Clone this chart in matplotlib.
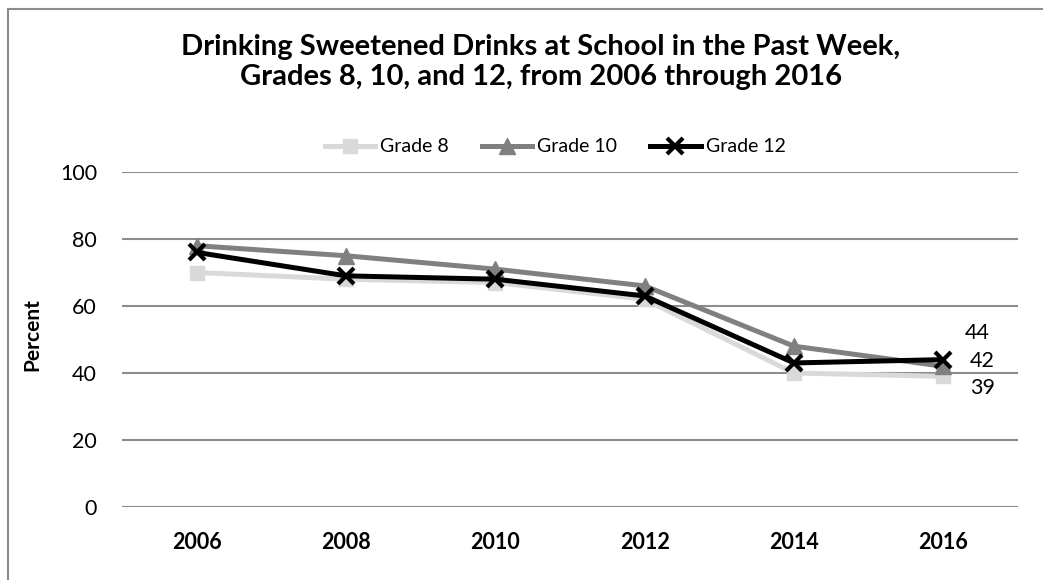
import numpy as np
import matplotlib
matplotlib.use('Agg')
import matplotlib.pyplot as plt
from matplotlib.patches import Rectangle

plt.rcParams['font.family'] = ['Lato', 'DejaVu Sans']

years = ['2006', '2008', '2010', '2012', '2014', '2016']
grade8 = [70, 68, 67, 62, 40, 39]
grade10 = [78, 75, 71, 66, 48, 42]
grade12 = [76, 69, 68, 63, 43, 44]

fig = plt.figure(figsize=(10.43, 5.8), dpi=100)
ax = fig.add_axes([122/1043, 1-507/580, 896/1043, 335/580])

x = np.arange(len(years))
ax.plot(x, grade8, color='#d9d9d9', lw=3.6, marker='s', ms=10, label='Grade 8')
ax.plot(x, grade10, color='#808080', lw=3.6, marker='^', ms=11, label='Grade 10')
ax.plot(x, grade12, color='black', lw=3.6, marker='x', ms=11, mew=3, label='Grade 12')

# end labels for 2016
ax.annotate(str(grade12[-1]), (x[-1], grade12[-1]), xytext=(34, 27),
            textcoords='offset pixels', ha='center', va='center', fontsize=15.5)
ax.annotate(str(grade10[-1]), (x[-1], grade10[-1]), xytext=(39, 5),
            textcoords='offset pixels', ha='center', va='center', fontsize=15.5)
ax.annotate(str(grade8[-1]), (x[-1], grade8[-1]), xytext=(39, -12),
            textcoords='offset pixels', ha='center', va='center', fontsize=15.5)

ax.set_xlim(-0.5, 5.5)
ax.set_ylim(0, 100)
ax.set_yticks(range(0, 101, 20))
ax.set_xticks(x)
ax.set_xticklabels(years, fontweight='bold')
ax.tick_params(axis='both', length=0, labelsize=15.5)
ax.tick_params(axis='y', pad=18)
ax.tick_params(axis='x', pad=18)
ax.grid(axis='y', color='#8c8c8c', lw=1.5)
ax.set_axisbelow(True)
for s in ['left', 'right', 'top', 'bottom']:
    ax.spines[s].set_visible(False)

fig.text(32/1043, 1-335/580, 'Percent', rotation=90, ha='center', va='center',
         fontsize=15, fontweight='bold')
fig.text(541/1043, 1-62/580,
         'Drinking Sweetened Drinks at School in the Past Week,\nGrades 8, 10, and 12, from 2006 through 2016',
         ha='center', va='center', fontsize=21, fontweight='bold', linespacing=1.2)

fig.legend(loc='center', bbox_to_anchor=(555/1043, 1-147/580), ncol=3, frameon=False,
           fontsize=14, handlelength=2.6, handletextpad=0.25, columnspacing=1.7)

fig.patches.append(Rectangle((8/1043, -0.5), 2, 0.5 + 1 - 9/580, transform=fig.transFigure,
                             fill=False, edgecolor='#8c8c8c', lw=1.5))

fig.savefig('out.png', dpi=100)
